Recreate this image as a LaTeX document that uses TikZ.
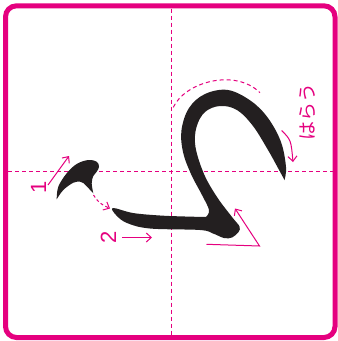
\documentclass[tikz,border=0pt]{standalone}
\usepackage{fontspec}
\newfontfamily\jpfont{Noto Sans CJK JP}
\newfontfamily\numfont{Liberation Sans}
\usetikzlibrary{arrows.meta}
\definecolor{mag}{RGB}{229,0,127}
\definecolor{ink}{RGB}{35,31,32}
\tikzset{
  guide/.style={color=mag, line width=1.1pt, dash pattern=on 4pt off 3pt},
  ann/.style={color=mag, line width=1pt, -{Straight Barb[length=5pt,width=9pt]}},
  annd/.style={ann, dash pattern=on 3pt off 2.5pt},
  brush/.style={fill=ink, draw=none},
  lbl/.style={text=mag, rotate=90, inner sep=0pt},
}
\begin{document}
\begin{tikzpicture}[x=1pt,y=-1pt]
\useasboundingbox (0,0) rectangle (338,341);
\fill[white] (0,0) rectangle (338,341);
% frame
\draw[color=mag, line width=5pt, rounded corners=11pt] (5.5,5.8) rectangle (335,337.5);
% guides
\coordinate (vT) at (171.2,8.5);
\coordinate (vB) at (171.2,335);
\coordinate (hL) at (8,171.7);
\coordinate (hR) at (332.5,171.7);
\draw[guide] (vT) -- (vB);
\draw[guide] (hL) -- (hR);
% stroke 1
\fill[brush] plot[smooth, tension=0.6] coordinates {(56.7,199.3) (58.3,186.7) (66.7,173.3) (76.7,164) (88.3,160) (96.7,161.7) (99,166.7) (96.7,171.7) (93.3,176) (91.7,183.3) (93.3,193.3)}
  -- plot[smooth, tension=0.6] coordinates {(93.3,193.3) (88.3,188) (83.3,183) (80,181.7) (73.3,182.7) (63.3,190) (56.7,199.3)} -- cycle;
% stroke 2
\fill[brush] plot[smooth, tension=0.6] coordinates {(284.5,180) (286,167) (281,142) (268,118) (251,101) (228,90) (205,94) (189,108) (181.5,130) (183,152) (191,174) (202,195) (209,210) (206,217)}
  -- plot[smooth, tension=0.6] coordinates {(206,217) (185,216.5) (160,215.5) (133,213) (113,208) (116,215) (127,223) (150,228.5) (200,230) (213,233.5) (224,238) (232,237.5) (238.5,232) (239.5,226.5) (232,217) (217,197) (204,174) (195.5,147) (196.5,127) (205,112) (220,106) (237,110) (253,126) (268,150) (278,168) (284.5,180)} -- cycle;
% labels
\node[lbl, font=\numfont\fontsize{22}{22}\selectfont] (n1) at (38.5,187) {1};
\node[lbl, font=\numfont\fontsize{22}{22}\selectfont] (n2) at (108.5,237.5) {2};
\node[lbl, font=\jpfont\fontsize{19}{19}\selectfont] (har) at (307.5,112) {はらう};
% annotation arrows
\coordinate (a1s) at (48,185);
\coordinate (a1e) at (69,156);
\draw[ann] (a1s) -- (a1e);
\coordinate (dS) at (93.5,195);
\coordinate (dE) at (110,208.5);
\draw[annd] (dS) .. controls (99,203) .. (dE);
\coordinate (a2s) at (122,237.5);
\coordinate (a2e) at (152,237.5);
\draw[ann] (a2s) -- (a2e);
\coordinate (arcS) at (173.3,107.3);
\coordinate (arcE) at (260,92.7);
\draw[guide, line width=1pt] (arcS) .. controls (185,82) and (235,68) .. (arcE);
\coordinate (hS) at (281.7,130.5);
\coordinate (hE) at (293,162);
\draw[ann] (hS) .. controls (291,140) .. (hE);
\coordinate (cS) at (206.5,244.3);
\coordinate (cM) at (259.5,246);
\coordinate (cE) at (235,208.5);
\draw[ann] (cS) -- (cM) -- (cE);
\end{tikzpicture}
\end{document}
